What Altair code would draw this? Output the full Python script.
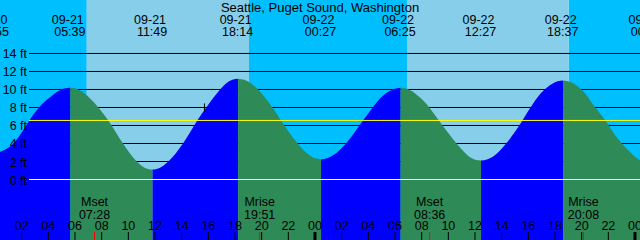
import altair as alt
import pandas as pd

title_text = "Seattle, Puget Sound, Washington"

# Tide curve: hours from 09-21 00:00, height in feet
tide_hours = [-0.083, 0.5, 1.2, 1.9, 2.57, 3.3, 4.1, 4.9, 5.2, 5.65,
              6.25, 7.0, 7.75, 8.5, 9.6, 10.63, 11.3, 11.817,
              12.3, 13.0, 14.1, 15.17, 15.9, 16.6, 17.3, 17.8, 18.233,
              18.7, 19.73, 20.9, 21.45, 22.73, 23.5, 24.0, 24.45,
              24.95, 25.6, 26.35, 27.6, 28.3, 29.1, 29.9, 30.417,
              30.9, 31.6, 32.33, 33.32, 34.7, 35.6, 36.0, 36.45,
              36.95, 37.6, 38.33, 39.58, 40.1, 40.95, 41.8, 42.2, 42.617,
              43.1, 44.03, 44.95, 45.83, 46.6, 47.33, 48.4, 48.9]
tide_feet = [3.0, 3.15, 3.75, 5.0, 6.56, 8.0, 9.1, 9.95, 10.1, 10.2,
             10.0, 9.2, 8.0, 6.56, 4.0, 2.0, 1.25, 1.1,
             1.25, 2.0, 4.0, 6.56, 8.1, 9.5, 10.65, 11.08, 11.2,
             11.07, 10.0, 7.8, 6.56, 3.95, 2.8, 2.35, 2.25,
             2.4, 2.95, 4.05, 6.56, 7.95, 9.3, 10.05, 10.2,
             10.07, 9.45, 8.45, 6.5, 3.85, 2.5, 2.2, 2.1,
             2.25, 2.84, 4.0, 6.6, 7.85, 9.6, 10.65, 10.92, 11.0,
             10.87, 9.95, 8.15, 6.45, 4.75, 3.5, 2.15, 2.0]

# High / low tide events (top labels)
event_dates = ["09-20", "09-21", "09-21", "09-21", "09-22", "09-22", "09-22", "09-22", "09-23"]
event_times = ["23:55", "05:39", "11:49", "18:14", "00:27", "06:25", "12:27", "18:37", "00:54"]

# Sunrise, sunset, sunrise, sunset
sun_dates = ["09-21", "09-21", "09-22", "09-22"]
sun_times = ["06:53", "19:03", "06:54", "19:01"]

# Moon events
moon_names = ["Mset", "Mrise", "Mset", "Mrise"]
moon_dates = ["09-21", "09-21", "09-22", "09-22"]
moon_times = ["07:28", "19:51", "08:36", "20:08"]

tick_hours = [2, 4, 6, 8, 10, 12, 14, 16, 18, 20, 22, 24,
              26, 28, 30, 32, 34, 36, 38, 40, 42, 44, 46, 48]
grid_feet = [2, 4, 6, 8, 10, 12, 14]
label_feet = [0, 2, 4, 6, 8, 10, 12, 14]
mean_level_feet = 6.56
now_hours = 15.71
now_feet = 8.0

x_range = [0.375, 48.375]
y_range = [-6.72, 19.94]

FONT = "Liberation Sans"
RISE_COLOR = "#0000ff"
FALL_COLOR = "#2e8b57"


def hours_of(date, time):
    day = int(date.split("-")[1]) - 21
    hh, mm = time.split(":")
    return day * 24 + int(hh) + int(mm) / 60


def X(field):
    return alt.X(field, type="quantitative",
                 scale=alt.Scale(domain=x_range, nice=False, zero=False), axis=None)


def Y(field):
    return alt.Y(field, type="quantitative", stack=None,
                 scale=alt.Scale(domain=y_range, nice=False, zero=False), axis=None)


# ---- tide segments (rising / falling), one area layer each ----
n = len(tide_hours)
breaks = [0] + [i for i in range(1, n - 1)
                if (tide_feet[i] - tide_feet[i - 1]) * (tide_feet[i + 1] - tide_feet[i]) < 0] + [n - 1]
tide_layers = []
for k in range(len(breaks) - 1):
    a, b = breaks[k], breaks[k + 1]
    rising = tide_feet[b] > tide_feet[a]
    seg_df = pd.DataFrame({"h": tide_hours[a:b + 1], "ft": tide_feet[a:b + 1]})
    seg_df["base"] = y_range[0]
    tide_layers.append(
        alt.Chart(seg_df).mark_area(
            color=RISE_COLOR if rising else FALL_COLOR, interpolate="monotone", clip=True
        ).encode(x=X("h"), y=Y("ft"), y2="base")
    )

# ---- day / night ----
sun_h = [hours_of(d, t) for d, t in zip(sun_dates, sun_times)]
night_df = pd.DataFrame({"start": [x_range[0] - 1, sun_h[1], sun_h[3]],
                         "end": [sun_h[0], sun_h[2], x_range[1] + 1]})
day_df = pd.DataFrame({"start": [sun_h[0], sun_h[2]], "end": [sun_h[1], sun_h[3]]})

night = alt.Chart(night_df).mark_rect(color="#00bfff", clip=True).encode(
    x=X("start"), x2="end", y=alt.value(0), y2=alt.value(240))
day = alt.Chart(day_df).mark_rect(color="#87ceeb", clip=True).encode(
    x=X("start"), x2="end", y=alt.value(0), y2=alt.value(240))

grid = alt.Chart(pd.DataFrame({"ft": grid_feet})).mark_rule(color="black", strokeWidth=1).encode(
    x=alt.value(29), x2=alt.value(640), y=Y("ft"))

mean_line = alt.Chart(pd.DataFrame({"ft": [mean_level_feet]})).mark_rule(
    color="#ffff00", strokeWidth=1).encode(x=alt.value(29), x2=alt.value(640), y=Y("ft"))
zero_line = alt.Chart(pd.DataFrame({"ft": [0]})).mark_rule(
    color="white", strokeWidth=1).encode(x=alt.value(29), x2=alt.value(640), y=Y("ft"))

now_df = pd.DataFrame({"h": [now_hours], "ft": [now_feet],
                       "h1": [now_hours - 0.33], "h2": [now_hours + 0.33],
                       "f1": [now_feet - 0.45], "f2": [now_feet + 0.45]})
now_v = alt.Chart(now_df).mark_rule(color="black", strokeWidth=1).encode(
    x=X("h"), y=Y("f1"), y2="f2")
now_hz = alt.Chart(now_df).mark_rule(color="black", strokeWidth=1).encode(
    x=X("h1"), x2="h2", y=Y("ft"))

ylab_df = pd.DataFrame({"ft": label_feet, "txt": [f"{v} ft" for v in label_feet]})
ylabels = alt.Chart(ylab_df).mark_text(
    align="right", baseline="alphabetic", dy=5, font=FONT, fontSize=12.5, color="black").encode(
    x=alt.value(27), y=Y("ft"), text="txt:N")

title = alt.Chart(pd.DataFrame({"t": [title_text]})).mark_text(
    align="center", baseline="alphabetic", font=FONT, fontSize=13, color="black").encode(
    x=alt.value(320), y=alt.value(12), text="t:N")

ev_df = pd.DataFrame({"h": [hours_of(d, t) for d, t in zip(event_dates, event_times)],
                      "date": event_dates, "time": event_times})
ev_date = alt.Chart(ev_df).mark_text(
    align="center", baseline="alphabetic", dx=-2.5, font=FONT, fontSize=12.5, color="black").encode(
    x=X("h"), y=alt.value(23.5), text="date:N")
ev_time = alt.Chart(ev_df).mark_text(
    align="center", baseline="alphabetic", dx=-0.5, font=FONT, fontSize=12.5, color="black").encode(
    x=X("h"), y=alt.value(36), text="time:N")

tick_df = pd.DataFrame({"h": tick_hours, "lab": [f"{h % 24:02d}" for h in tick_hours],
                        "midnight": [h % 24 == 0 for h in tick_hours]})
ticks = alt.Chart(tick_df[~tick_df["midnight"]]).mark_rule(color="black", strokeWidth=1).encode(
    x=X("h"), y=alt.value(232), y2=alt.value(240))
mid_ticks = alt.Chart(tick_df[tick_df["midnight"]]).mark_rule(color="black", strokeWidth=3).encode(
    x=X("h"), y=alt.value(232), y2=alt.value(240))
tick_labels = alt.Chart(tick_df).mark_text(
    align="center", baseline="alphabetic", font=FONT, fontSize=12.5, color="black").encode(
    x=X("h"), y=alt.value(230), text="lab:N")

moon_df = pd.DataFrame({"h": [hours_of(d, t) for d, t in zip(moon_dates, moon_times)],
                        "name": moon_names, "time": moon_times})
moon_ticks = alt.Chart(moon_df).mark_rule(color="#ff0000", strokeWidth=1).encode(
    x=X("h"), y=alt.value(232), y2=alt.value(240))
moon_name = alt.Chart(moon_df).mark_text(
    align="center", baseline="alphabetic", font=FONT, fontSize=12.5, color="black").encode(
    x=X("h"), y=alt.value(206), text="name:N")
moon_time = alt.Chart(moon_df).mark_text(
    align="center", baseline="alphabetic", font=FONT, fontSize=12.5, color="black").encode(
    x=X("h"), y=alt.value(218.5), text="time:N")

chart = alt.layer(
    night, day, grid, *tide_layers, mean_line, zero_line, now_v, now_hz,
    ylabels, title, ev_date, ev_time,
    ticks, mid_ticks, moon_ticks, tick_labels, moon_name, moon_time,
).properties(
    width=640, height=240, padding=0, autosize=alt.AutoSizeParams(type="none")
).configure_view(stroke=None)

chart.save("out.html", embed_options={"renderer": "svg", "actions": False})
